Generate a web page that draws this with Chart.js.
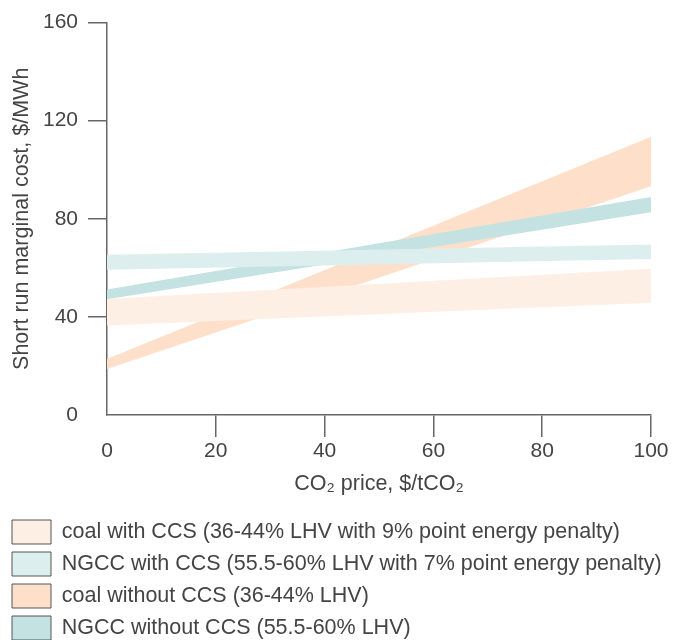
<!DOCTYPE html>
<html><head><meta charset="utf-8">
<script src="https://cdn.jsdelivr.net/npm/chart.js@4"></script>
<style>html,body{margin:0;padding:0;overflow:hidden;background:#fff}#wrap{width:673px;height:650px}</style>
</head><body><div id="wrap"><canvas id="c" width="673" height="650"></canvas></div>
<script>
// ---- data ----
const co2Price = [0, 100];
const xTicks = [0, 20, 40, 60, 80, 100];
const yTicks = [0, 40, 80, 120, 160];

const coalCcsLow  = [36.5, 45.8];
const coalCcsHigh = [47.3, 59.6];
const ngccCcsLow  = [59.2, 63.6];
const ngccCcsHigh = [65.3, 69.5];
const coalLow     = [18.8, 93.3];
const coalHigh    = [22.8, 113.5];
const ngccLow     = [47.2, 82.7];
const ngccHigh    = [51.2, 88.9];

const labels = [
  'coal with CCS (36-44% LHV with 9% point energy penalty)',
  'NGCC with CCS (55.5-60% LHV with 7% point energy penalty)',
  'coal without CCS (36-44% LHV)',
  'NGCC without CCS (55.5-60% LHV)'
];
const colors = ['#FDEFE3', '#DDEEEE', '#FEE0CA', '#C4E2E1'];

// ---- build ----
const lows  = [coalCcsLow, ngccCcsLow, coalLow, ngccLow];
const highs = [coalCcsHigh, ngccCcsHigh, coalHigh, ngccHigh];
const drawOrder = [1, 0, 3, 2]; // top-most first
const datasets = [];
drawOrder.forEach(i => {
  datasets.push({
    label: labels[i], bandIndex: i,
    data: co2Price.map((x, j) => ({x: x, y: highs[i][j]})),
    fill: '+1', backgroundColor: colors[i], borderColor: 'rgba(0,0,0,0)',
    borderWidth: 0, pointRadius: 0, pointHoverRadius: 0
  });
  datasets.push({
    label: labels[i] + ' low', bandIndex: -1,
    data: co2Price.map((x, j) => ({x: x, y: lows[i][j]})),
    fill: false, borderColor: 'rgba(0,0,0,0)', borderWidth: 0,
    pointRadius: 0, pointHoverRadius: 0
  });
});

const FONT = '"Liberation Sans", "DejaVu Sans", sans-serif';
const txt = '#444';
const axisCol = '#666';
const tickCol = ctx => (ctx.tick && ctx.tick.value === 0) ? 'rgba(0,0,0,0)' : axisCol;

new Chart(document.getElementById('c'), {
  type: 'line',
  data: {datasets},
  options: {
    responsive: false, animation: false,
    layout: {padding: {top: 22, right: 0, left: 4, bottom: 0}},
    plugins: {
      tooltip: {enabled: false},
      legend: {
        position: 'bottom', align: 'start',
        labels: {
          boxWidth: 39, boxHeight: 24, padding: 8,
          font: {family: FONT, size: 21.5}, color: txt,
          generateLabels: chart => labels.map((t, i) => ({
            text: t, fillStyle: colors[i], strokeStyle: '#555', lineWidth: 1,
            hidden: false, fontColor: txt,
            datasetIndex: chart.data.datasets.findIndex(d => d.bandIndex === i)
          }))
        },
        onClick: () => {}
      }
    },
    scales: {
      x: {
        type: 'linear', min: 0, max: 100,
        afterBuildTicks: s => { s.ticks = xTicks.map(v => ({value: v})); },
        afterFit: s => { s.height = 97; s.paddingRight = 22; },
        ticks: {font: {family: FONT, size: 21}, color: txt, padding: 2, maxRotation: 0, autoSkip: false},
        grid: {drawOnChartArea: false, drawTicks: true, tickLength: 22, color: tickCol, lineWidth: 1.5},
        border: {color: axisCol, width: 1.5},
        title: {display: true, text: 'CO₂ price, $/tCO₂', font: {family: FONT, size: 21.5}, color: txt, padding: {top: 0, bottom: 15}}
      },
      y: {
        type: 'linear', min: 0, max: 160,
        afterBuildTicks: s => { s.ticks = yTicks.map(v => ({value: v})); },
        afterFit: s => { s.width = 103; },
        ticks: {font: {family: FONT, size: 21}, color: txt, padding: 10, autoSkip: false},
        grid: {drawOnChartArea: false, drawTicks: true, tickLength: 19, color: tickCol, lineWidth: 1.5},
        border: {color: axisCol, width: 1.5},
        title: {display: true, text: 'Short run marginal cost, $/MWh', font: {family: FONT, size: 21.5}, color: txt, padding: {top: 5, bottom: 0}}
      }
    }
  }
});
</script>
</body></html>
